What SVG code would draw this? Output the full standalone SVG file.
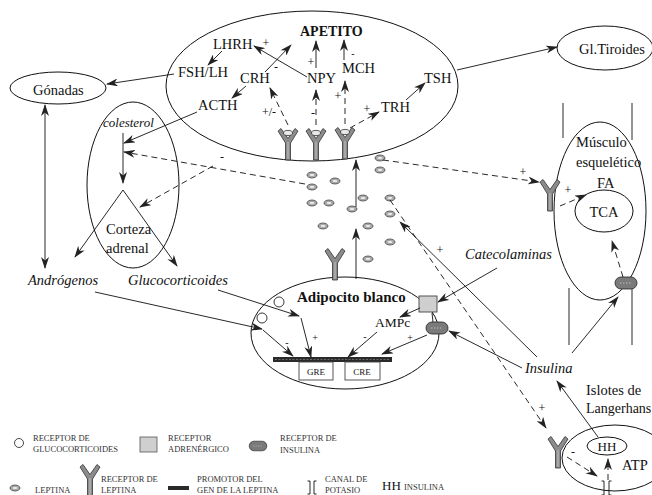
<svg xmlns="http://www.w3.org/2000/svg" width="652" height="495" viewBox="0 0 652 495">
<style>
 text{font-family:"Liberation Serif","Times New Roman",serif;fill:#111}
 .t{font-size:14.5px}
 .i{font-style:italic}
 .b{font-weight:bold}
 .s{font-size:12px}
 .ss{font-size:10px}
 .lg{font-size:8.5px;fill:#333}
 .ln{stroke:#111;stroke-width:0.9;fill:none}
 .a{marker-end:url(#ah)}
 .d{stroke-dasharray:6 4}
 .node{fill:#fff;stroke:#111;stroke-width:1}
 .lep{fill:#a8a8a8;stroke:#333;stroke-width:0.7}
</style>
<defs>
 <marker id="ah" viewBox="0 0 12 8" refX="11" refY="4" markerWidth="12" markerHeight="8" markerUnits="userSpaceOnUse" orient="auto-start-reverse">
  <path d="M0,0 L12,4 L0,8 L3.5,4 z" fill="#222"/>
 </marker>
 <g id="Y"><path d="M-2.5,33 L2.5,33 L2.5,16 L10,4 L7,1.5 L0,11.5 L-7,1.5 L-10,4 L-2.5,16 Z" fill="#8c8c8c" stroke="#333" stroke-width="0.8"/><path d="M0,15 V32" stroke="#d0d0d0" stroke-width="0.8"/></g>
 <g id="YL"><use href="#Y"/><ellipse cx="0" cy="6" rx="4.5" ry="2.6" fill="#e8e8e8" stroke="#333" stroke-width="0.8"/></g>
 <g id="lp"><ellipse rx="5" ry="3" class="lep"/><ellipse rx="2.4" ry="1" fill="#eee"/></g>
 <g id="ir"><rect x="-11" y="-6" width="22" height="12" rx="6" fill="#7a7a7a" stroke="#222" stroke-width="0.8"/><path d="M-6,0 H6" stroke="#bbb" stroke-width="1" stroke-dasharray="1.5 1.5"/></g>
</defs>

<g id="hipotalamo">
 <ellipse class="node" cx="312" cy="86" rx="146" ry="75"/>
 <text class="b" x="300" y="36" font-size="14">APETITO</text>
 <text class="t" x="213" y="49">LHRH</text>
 <text class="t" x="178" y="77">FSH/LH</text>
 <text class="t" x="240" y="83">CRH</text>
 <text class="t" x="307" y="83">NPY</text>
 <text class="t" x="342" y="73">MCH</text>
 <text class="t" x="198" y="110">ACTH</text>
 <text class="t" x="424" y="83">TSH</text>
 <text class="t" x="381" y="112">TRH</text>
 <use href="#YL" x="288" y="127"/>
 <use href="#YL" x="316" y="127"/>
 <use href="#YL" x="345" y="126"/>
</g>

<g id="gonadas">
 <ellipse class="node" cx="58" cy="88" rx="48" ry="16"/>
 <text class="t" x="33" y="95">Gónadas</text>
</g>

<g id="tiroides">
 <ellipse class="node" cx="605" cy="48" rx="48" ry="22"/>
 <text class="t" x="579" y="54">Gl.Tiroides</text>
</g>

<g id="corteza-adrenal">
 <ellipse class="node" cx="133" cy="185" rx="46" ry="83"/>
 <text class="i" x="103" y="127" font-size="13">colesterol</text>
 <text class="t" x="106" y="234">Corteza</text>
 <text class="t" x="106" y="253">adrenal</text>
</g>

<g id="androgenos"><text class="t i" x="28" y="285">Andrógenos</text></g>
<g id="glucocorticoides"><text class="t i" x="128" y="285">Glucocorticoides</text></g>
<g id="catecolaminas"><text class="t i" x="465" y="259">Catecolaminas</text></g>
<g id="insulina"><text class="t i" x="525" y="373">Insulina</text></g>

<g id="leptina">
 <use href="#lp" x="380" y="158"/>
 <use href="#lp" x="380" y="170"/>
 <use href="#lp" x="312" y="175"/>
 <use href="#lp" x="335" y="181"/>
 <use href="#lp" x="312" y="187"/>
 <use href="#lp" x="363" y="198"/>
 <use href="#lp" x="390" y="198"/>
 <use href="#lp" x="312" y="203"/>
 <use href="#lp" x="329" y="203"/>
 <use href="#lp" x="352" y="209"/>
 <use href="#lp" x="390" y="214"/>
 <use href="#lp" x="323" y="226"/>
 <use href="#lp" x="368" y="226"/>
 <use href="#lp" x="390" y="242"/>
 <use href="#lp" x="368" y="259"/>
</g>

<g id="adipocito">
 <ellipse class="node" cx="345" cy="333" rx="94" ry="56"/>
 <use href="#Y" x="335" y="247"/>
 <text class="b" x="297" y="302" font-size="15">Adipocito blanco</text>
 <circle cx="279" cy="302" r="5" fill="#fff" stroke="#222" stroke-width="0.9"/>
 <circle cx="262" cy="318" r="5" fill="#fff" stroke="#222" stroke-width="0.9"/>
 <rect x="273" y="357" width="119" height="5" fill="#2a2a2a"/>
 <path d="M275,359.5 H390" stroke="#777" stroke-width="0.8" stroke-dasharray="2 1.5"/>
 <rect x="299" y="362" width="34" height="18" fill="#fff" stroke="#444" stroke-width="0.9"/>
 <rect x="345" y="362" width="35" height="18" fill="#fff" stroke="#444" stroke-width="0.9"/>
 <text x="316" y="375" font-size="9" text-anchor="middle">GRE</text>
 <text x="362" y="375" font-size="9" text-anchor="middle">CRE</text>
 <text x="375" y="327" font-size="13.5">AMPc</text>
 <rect x="419" y="296" width="18" height="16" fill="#cfcfcf" stroke="#444" stroke-width="0.9"/>
 <use href="#ir" x="437" y="328"/>
</g>

<g id="musculo">
 <path class="ln" d="M563,103 V138 M632,103 V140 M569,288 V345 M632,285 V345"/>
 <ellipse class="node" cx="600" cy="211" rx="46" ry="89"/>
 <text class="t" x="576" y="147">Músculo</text>
 <text class="t" x="576" y="167">esquelético</text>
 <text class="t" x="597" y="188">FA</text>
 <ellipse class="node" cx="604" cy="211" rx="29" ry="21"/>
 <text class="t" x="604" y="217" text-anchor="middle">TCA</text>
 <use href="#Y" x="550" y="178"/>
 <use href="#ir" x="626" y="283"/>
</g>

<g id="islotes">
 <ellipse class="node" cx="615" cy="458" rx="53" ry="33"/>
 <text class="t" x="586" y="395">Islotes de</text>
 <text x="586" y="413" font-size="14">Langerhans</text>
 <ellipse class="node" cx="607" cy="446" rx="20" ry="9"/>
 <text x="607" y="451" font-size="13" text-anchor="middle">HH</text>
 <text class="t" x="622" y="470">ATP</text>
 <use href="#Y" x="558" y="435"/>
 <path class="ln" d="M604,481 V495 M604,481 h-2.5 M604,495 h-2.5 M609,481 V495 M609,481 h2.5 M609,495 h2.5"/>
</g>

<g id="connectors">
 <path class="ln a" d="M222,51 L208,65"/>
 <path class="ln a" d="M246,86 L232,98"/>
 <path class="ln a" d="M265,72 L291,45"/>
 <path class="ln a" d="M307,77 L254,46"/>
 <path class="ln a" d="M316,68 L316,41"/>
 <path class="ln a" d="M344,60 L344,40"/>
 <path class="ln d a" d="M288,125 L270,88"/>
 <path class="ln d a" d="M316,125 L316,90"/>
 <path class="ln d a" d="M345,124 L345,81"/>
 <path class="ln d a" d="M350,128 L379,112"/>
 <path class="ln a" d="M406,100 L425,83"/>
 <path class="ln a" d="M457,70 L557,47"/>
 <path class="ln a" d="M174,74 L107,84"/>
 <path class="ln a" d="M197,112 L124,143"/>
 <path class="ln a" style="marker-start:url(#ah)" d="M45,105 L45,268"/>
 <path class="ln a" d="M123,133 L123,183"/>
 <path class="ln a" d="M123,190 L75,257"/>
 <path class="ln a" d="M123,190 L177,266"/>
 <path class="ln d a" d="M305,184 L124,152"/>
 <path class="ln d a" d="M213,166 L140,207"/>
 <path class="ln a" d="M356,207 L356,160"/>
 <path class="ln a" d="M356,279 L356,229"/>
 <path class="ln d a" d="M383,160 L539,182"/>
 <path class="ln d a" d="M390,200 L546,428"/>
 <path class="ln a" d="M537,357 L400,222"/>
 <path class="ln a" d="M572,353 L618,297"/>
 <path class="ln a" d="M522,368 L449,331"/>
 <path class="ln a" d="M497,268 L438,302"/>
 <path class="ln a" d="M598,437 L557,381"/>
 <path class="ln d a" d="M567,457 L597,476"/>
 <path class="ln d a" d="M608,480 L608,459"/>
 <path class="ln d a" d="M560,206 L586,195"/>
 <path class="ln d a" d="M623,277 L612,241"/>
 <path class="ln a" d="M218,290 L299,316"/>
 <path class="ln a" d="M301,318 L311,357"/>
 <path class="ln a" d="M95,292 L262,329"/>
 <path class="ln a" d="M263,330 L293,356"/>
 <path class="ln a" d="M420,308 L400,317"/>
 <path class="ln a" d="M377,332 L348,357"/>
 <path class="ln a" d="M427,335 L382,354"/>
 <path class="ln" d="M432,313 L433,322"/>
 <text class="s" x="266" y="47" text-anchor="middle">+</text>
 <text class="s" x="276" y="71" text-anchor="middle">-</text>
 <text class="s" x="311" y="66" text-anchor="middle">+</text>
 <text class="ss" x="353" y="57" text-anchor="middle">-</text>
 <text class="s" x="262" y="116">+/-</text>
 <text class="s" x="313" y="117" text-anchor="middle">-</text>
 <text class="s" x="338" y="100" text-anchor="middle">+</text>
 <text class="s" x="367" y="113" text-anchor="middle">+</text>
 <text class="s" x="222" y="161" text-anchor="middle">-</text>
 <text class="s" x="523" y="176" text-anchor="middle">+</text>
 <text class="s" x="568" y="194" text-anchor="middle">+</text>
 <text class="s" x="440" y="254" text-anchor="middle">+</text>
 <text class="s" x="542" y="412" text-anchor="middle">+</text>
 <text class="s" x="573" y="456" text-anchor="middle">-</text>
 <text class="ss" x="315" y="341" text-anchor="middle">+</text>
 <text class="ss" x="287" y="346" text-anchor="middle">-</text>
 <text class="ss" x="365" y="340" text-anchor="middle">-</text>
 <text class="ss" x="410" y="341" text-anchor="middle">+</text>
</g>

<g id="leyenda">
 <circle cx="19" cy="443" r="4.5" fill="#fff" stroke="#333" stroke-width="0.9"/>
 <text class="lg" x="33" y="441">RECEPTOR DE</text>
 <text class="lg" x="33" y="452">GLUCOCORTICOIDES</text>
 <rect x="140" y="437" width="17" height="15" fill="#cfcfcf" stroke="#555" stroke-width="0.8"/>
 <text class="lg" x="168" y="441">RECEPTOR</text>
 <text class="lg" x="168" y="452">ADRENÉRGICO</text>
 <g transform="translate(258,446) scale(0.8)"><use href="#ir"/></g>
 <text class="lg" x="280" y="441">RECEPTOR DE</text>
 <text class="lg" x="280" y="453">INSULINA</text>
 <use href="#lp" x="15" y="488"/>
 <text class="lg" x="35" y="493">LEPTINA</text>
 <use href="#Y" x="90" y="463"/>
 <text class="lg" x="101" y="482">RECEPTOR DE</text>
 <text class="lg" x="101" y="493">LEPTINA</text>
 <rect x="168" y="486" width="21" height="4" fill="#2a2a2a"/>
 <text class="lg" x="197" y="482">PROMOTOR DEL</text>
 <text class="lg" x="197" y="493">GEN DE LA LEPTINA</text>
 <path class="ln" d="M310,481 V494 M310,481 h-2.5 M310,494 h-2.5 M314,481 V494 M314,481 h2.5 M314,494 h2.5"/>
 <text class="lg" x="325" y="482">CANAL DE</text>
 <text class="lg" x="325" y="493">POTASIO</text>
 <text x="382" y="490" font-size="13">HH</text>
 <text class="lg" x="404" y="490">INSULINA</text>
</g>
</svg>
